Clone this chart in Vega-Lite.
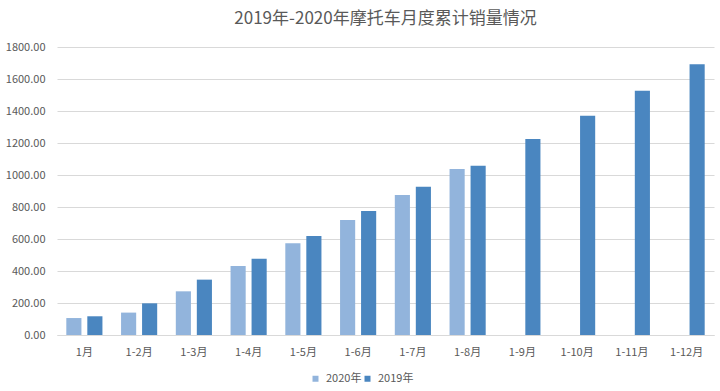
{
  "$schema": "https://vega.github.io/schema/vega-lite/v6.json",
  "width": 657,
  "height": 288,
  "padding": {"left": 5, "right": 4, "top": 10, "bottom": 4},
  "background": "white",
  "title": {
    "text": "2019年-2020年摩托车月度累计销量情况",
    "font": "Noto Sans CJK SC",
    "fontSize": 17,
    "fontWeight": "normal",
    "color": "#595959",
    "anchor": "middle",
    "offset": 13
  },
  "data": {
    "values": [
      {"period": "1月", "year": "2020年", "value": 106},
      {"period": "1月", "year": "2019年", "value": 117},
      {"period": "1-2月", "year": "2020年", "value": 140},
      {"period": "1-2月", "year": "2019年", "value": 198},
      {"period": "1-3月", "year": "2020年", "value": 273},
      {"period": "1-3月", "year": "2019年", "value": 346},
      {"period": "1-4月", "year": "2020年", "value": 431},
      {"period": "1-4月", "year": "2019年", "value": 477},
      {"period": "1-5月", "year": "2020年", "value": 573},
      {"period": "1-5月", "year": "2019年", "value": 619},
      {"period": "1-6月", "year": "2020年", "value": 719},
      {"period": "1-6月", "year": "2019年", "value": 775},
      {"period": "1-7月", "year": "2020年", "value": 875},
      {"period": "1-7月", "year": "2019年", "value": 927},
      {"period": "1-8月", "year": "2020年", "value": 1037},
      {"period": "1-8月", "year": "2019年", "value": 1058},
      {"period": "1-9月", "year": "2019年", "value": 1225},
      {"period": "1-10月", "year": "2019年", "value": 1371},
      {"period": "1-11月", "year": "2019年", "value": 1527},
      {"period": "1-12月", "year": "2019年", "value": 1692}
    ]
  },
  "mark": {"type": "bar"},
  "encoding": {
    "x": {
      "field": "period",
      "type": "nominal",
      "sort": ["1月","1-2月","1-3月","1-4月","1-5月","1-6月","1-7月","1-8月","1-9月","1-10月","1-11月","1-12月"],
      "scale": {"paddingInner": 0.34, "paddingOuter": 0.17},
      "axis": {
        "title": null,
        "labelAngle": 0,
        "labelFont": "Noto Sans CJK SC",
        "labelFontSize": 11,
        "labelColor": "#595959",
        "labelPadding": 11,
        "ticks": false,
        "domainColor": "#d9d9d9",
        "grid": false
      }
    },
    "xOffset": {
      "field": "year",
      "type": "nominal",
      "sort": ["2020年", "2019年"],
      "scale": {"domain": ["2020年", "2019年"], "paddingInner": 0.28, "paddingOuter": 0}
    },
    "y": {
      "field": "value",
      "type": "quantitative",
      "scale": {"domain": [0, 1800], "nice": false},
      "axis": {
        "title": null,
        "values": [0,200,400,600,800,1000,1200,1400,1600,1800],
        "format": ".2f",
        "labelFont": "Noto Sans CJK SC",
        "labelFontSize": 11,
        "labelColor": "#595959",
        "labelPadding": 12,
        "ticks": false,
        "domain": false,
        "gridColor": "#d9d9d9",
        "gridWidth": 1
      }
    },
    "color": {
      "field": "year",
      "type": "nominal",
      "scale": {"domain": ["2020年", "2019年"], "range": ["#92B4DC", "#4A86C0"]},
      "legend": {
        "title": null,
        "orient": "none",
        "legendX": 253,
        "legendY": 326,
        "direction": "horizontal",
        "symbolType": "square",
        "symbolSize": 36,
        "labelFont": "Noto Sans CJK SC",
        "labelFontSize": 11,
        "labelColor": "#595959",
        "labelOffset": 5,
        "columnPadding": -3
      }
    }
  },
  "config": {
    "view": {"stroke": null}
  }
}
